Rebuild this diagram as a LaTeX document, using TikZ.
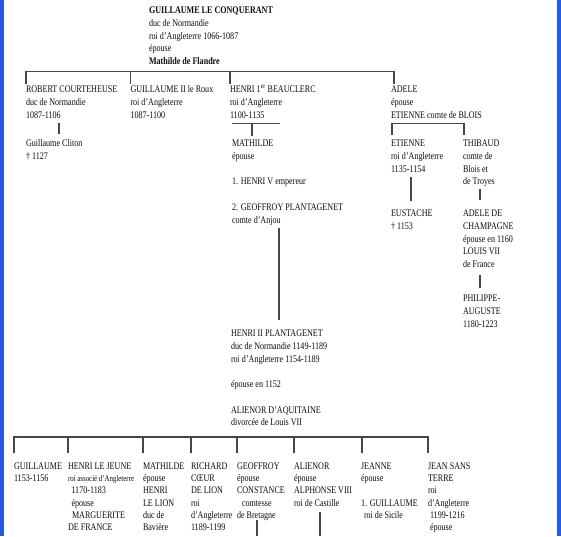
\documentclass[tikz,border=0pt]{standalone}
\usepackage{fontspec}
\setmainfont{Liberation Serif}[FakeStretch=0.80]
\newcommand{\tb}[1]{\begin{tabular}[t]{@{}l@{}}#1\end{tabular}}
\newcommand{\hsm}[1]{{\fontsize{8.6}{12}\selectfont #1}}
\definecolor{sidebar}{RGB}{38,88,225}
\begin{document}
\begin{tikzpicture}[x=1pt,y=-1pt,
  person/.style={anchor=base west, inner sep=0pt, outer sep=0pt, text=black!95, font=\fontsize{10.1}{12.75}\selectfont},
  lowrow/.style={person, font=\fontsize{10.1}{12.2}\selectfont},
  link/.style={draw=black!72, line width=1.4pt, line join=miter},
]
\useasboundingbox (0,0) rectangle (561,536);
\fill[white] (0,0) rectangle (561,536);
\fill[sidebar] (0,0) rectangle (4,536);
\fill[sidebar] (557,0) rectangle (561,536);

% generation 1
\node[person] (conq) at (149,13.5) {\tb{\textbf{GUILLAUME LE CONQUERANT}\\duc de Normandie\\roi d'Angleterre 1066-1087\\épouse\\\textbf{Mathilde de Flandre}}};

% generation 2
\node[person] (robert) at (26,92.5) {\tb{ROBERT COURTEHEUSE\\duc de Normandie\\1087-1106}};
\node[person] (guill) at (130.5,92.5) {\tb{GUILLAUME II le Roux\\roi d'Angleterre\\1087-1100}};
\node[person] (henri) at (230,92.5) {\tb{HENRI 1\textsuperscript{er} BEAUCLERC\\roi d'Angleterre\\1100-1135}};
\node[person] (adele) at (391,92.5) {\tb{ADELE\\épouse\\ETIENNE comte de BLOIS}};

% generation 3
\node[person] (cliton) at (26,146.5) {\tb{Guillaume Cliton\\† 1127}};
\node[person] (mathilde) at (232,146.5) {\tb{MATHILDE\\épouse\\ \\1. HENRI V empereur\\ \\2. GEOFFROY PLANTAGENET\\comte d'Anjou}};
\node[person] (etienne) at (391,146.5) {\tb{ETIENNE\\roi d'Angleterre\\1135-1154}};
\node[person] (thibaud) at (463,146.5) {\tb{THIBAUD\\comte de\\Blois et\\de Troyes}};

% generation 4
\node[person] (eustache) at (391,216.5) {\tb{EUSTACHE\\† 1153}};
\node[person] (adelec) at (463,216.5) {\tb{ADELE DE\\CHAMPAGNE\\épouse en 1160\\LOUIS VII\\de France}};
\node[person] (philippe) at (463,301.5) {\tb{PHILIPPE-\\AUGUSTE\\1180-1223}};
\node[person] (henri2) at (231,336.5) {\tb{HENRI II PLANTAGENET\\duc de Normandie 1149-1189\\roi d'Angleterre 1154-1189\\ \\épouse en 1152\\ \\ALIENOR D'AQUITAINE\\divorcée de Louis VII}};

% generation 5
\node[lowrow] (gui) at (14,469.5) {\tb{GUILLAUME\\1153-1156}};
\node[lowrow] (hjeune) at (68,469.5) {\tb{HENRI LE JEUNE\\\hsm{roi associé d'Angleterre}\\\hspace*{3.5pt}1170-1183\\\hspace*{3.5pt}épouse\\\hspace*{4pt}MARGUERITE\\DE FRANCE}};
\node[lowrow] (mathb) at (143,469.5) {\tb{MATHILDE\\épouse\\HENRI\\LE LION\\duc de\\Bavière}};
\node[lowrow] (richard) at (191,469.5) {\tb{RICHARD\\CŒUR\\DE LION\\roi\\d'Angleterre\\1189-1199}};
\node[lowrow] (geoffroy) at (237,469.5) {\tb{GEOFFROY\\épouse\\CONSTANCE\\\hspace*{5pt}comtesse\\de Bretagne}};
\node[lowrow] (alienor) at (294,469.5) {\tb{ALIENOR\\épouse\\ALPHONSE VIII\\roi de Castille}};
\node[lowrow] (jeanne) at (361,469.5) {\tb{JEANNE\\épouse\\ \\1. GUILLAUME\\\hspace*{3pt}roi de Sicile}};
\node[lowrow] (jean) at (428,469.5) {\tb{JEAN SANS\\TERRE\\roi\\d'Angleterre\\\hspace*{2pt}1199-1216\\\hspace*{2pt}épouse}};

% connectors: generation 1 -> 2
\coordinate (busA) at (26,71.5);
\coordinate (busB) at (394,71.5);
\draw[link] (robert.north west) -- (busA) -- (busB) -- (busB |- adele.north);
\draw[link] (guill.north west |- busA) -- (guill.north west);
\draw[link] (henri.north west |- busA) -- (henri.north west);

% Robert -> Cliton
\coordinate (rc1) at (59,122.5);
\coordinate (rc2) at (59,133.5);
\draw[link] (rc1) -- (rc2);

% Henri I -> Mathilde
\coordinate (hm1) at (232,123.5);
\coordinate (hm2) at (280,123.5);
\coordinate (hm3) at (252,123.5);
\coordinate (hm4) at (252,136);
\draw[link] (hm1) -- (hm2);
\draw[link] (hm3) -- (hm4);

% Geoffroy -> Henri II
\coordinate (gh1) at (279,228);
\coordinate (gh2) at (279,320);
\draw[link] (gh1) -- (gh2);

% Adele -> Etienne, Thibaud
\coordinate (ae1) at (392,135);
\coordinate (ae2) at (392,123.5);
\coordinate (ae3) at (464,123.5);
\coordinate (ae4) at (464,135);
\draw[link] (ae1) -- (ae2) -- (ae3) -- (ae4);

% Etienne -> Eustache
\coordinate (ee1) at (411,177);
\coordinate (ee2) at (411,201);
\draw[link] (ee1) -- (ee2);

% Thibaud -> Adele de Champagne
\coordinate (ta1) at (480,189);
\coordinate (ta2) at (480,200);
\draw[link] (ta1) -- (ta2);

% Adele de Champagne -> Philippe-Auguste
\coordinate (ap1) at (480,275);
\coordinate (ap2) at (480,288);
\draw[link] (ap1) -- (ap2);

% Henri II -> children
\coordinate (busC) at (14,437);
\coordinate (busD) at (428,437);
\coordinate (tkL) at (14,453);
\coordinate (tkR) at (428,453);
\draw[link] (tkL) -- (busC) -- (busD) -- (tkR);
\foreach \xx in {68,143,191,237,294,362}{
  \draw[link] (\xx,437) -- (\xx,453);
}

% lines leaving the bottom edge
\coordinate (gd1) at (257,520);
\coordinate (gd2) at (257,536);
\draw[link] (gd1) -- (gd2);
\coordinate (ad1) at (320,512);
\coordinate (ad2) at (320,536);
\draw[link] (ad1) -- (ad2);
\end{tikzpicture}
\end{document}
